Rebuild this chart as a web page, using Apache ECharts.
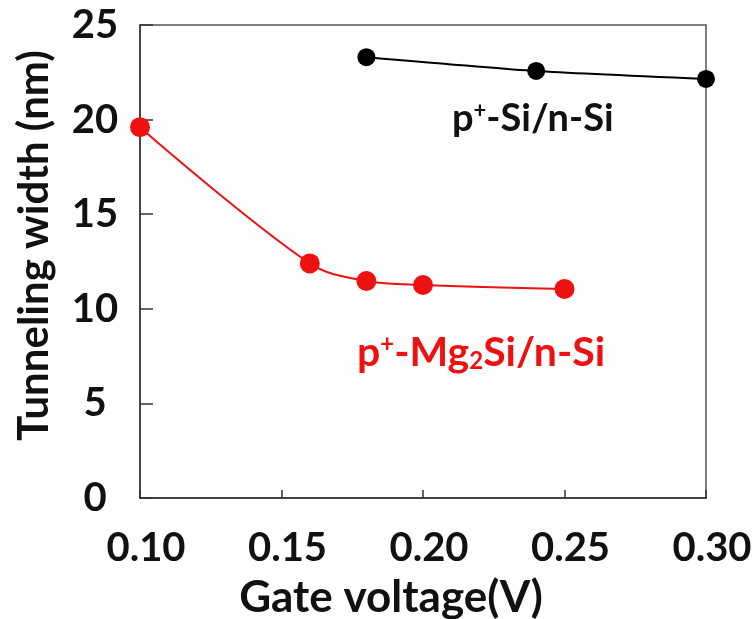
<!DOCTYPE html>
<html>
<head>
<meta charset="utf-8">
<script src="https://cdn.jsdelivr.net/npm/echarts@6/dist/echarts.min.js"></script>
<style>
html,body{margin:0;padding:0;background:#fff;}
#c{width:752px;height:619px;}
</style>
</head>
<body>
<div id="c"></div>
<script>
// Data
const xTicks = [0.10, 0.15, 0.20, 0.25, 0.30];
const yTicks = [0, 5, 10, 15, 20, 25];
const mgVoltage = [0.10, 0.16, 0.18, 0.20, 0.25];
const mgWidth   = [19.6, 12.4, 11.47, 11.26, 11.05];
const siVoltage = [0.18, 0.24, 0.30];
const siWidth   = [23.3, 22.57, 22.15];

const FONT = 'Lato, "Open Sans", sans-serif';
const chart = echarts.init(document.getElementById('c'), null, {renderer: 'canvas'});

function pairs(xs, ys){ return xs.map((x,i)=>[x, ys[i]]); }

const option = {
  backgroundColor: '#fff',
  animation: false,
  grid: {left: 140, right: 46, top: 25, bottom: 121, containLabel: false, outerBoundsMode: 'none',
    show: true, borderColor: '#555', borderWidth: 1.5, backgroundColor: 'transparent'},
  xAxis: {
    type: 'value', min: xTicks[0], max: xTicks[xTicks.length-1], interval: 0.05,
    name: 'Gate voltage(V)', nameLocation: 'middle', nameGap: 78,
    nameTextStyle: {fontFamily: FONT, fontWeight: 'bold', fontSize: 44, color: '#111', padding: [0, 64, 0, 0]},
    axisLine: {show: true, lineStyle: {color: '#333', width: 1.5}},
    axisTick: {show: true, inside: true, length: 8, lineStyle: {color: '#333', width: 1.5}},
    splitLine: {show: false},
    axisLabel: {margin: 30, fontFamily: FONT, fontWeight: 'bold', fontSize: 40, color: '#111',
      padding: [0, 0, 0, 12], formatter: v => v.toFixed(2)}
  },
  yAxis: {
    type: 'value', min: yTicks[0], max: yTicks[yTicks.length-1], interval: 5,
    name: 'Tunneling width (nm)', nameLocation: 'middle', nameGap: 85,
    nameTextStyle: {fontFamily: FONT, fontWeight: 'bold', fontSize: 42, color: '#111', padding: [0, 0, 0, 32]},
    axisLine: {show: true, lineStyle: {color: '#333', width: 1.5}},
    axisTick: {show: true, inside: true, length: 13, lineStyle: {color: '#333', width: 1.5}},
    splitLine: {show: false},
    axisLabel: {margin: 45, align: 'center', fontFamily: FONT, fontWeight: 'bold', fontSize: 40, color: '#111'}
  },
  series: [
    {
      type: 'line', data: pairs(mgVoltage, mgWidth), smooth: 0.35,
      symbol: 'circle', symbolSize: 20,
      lineStyle: {color: '#ee1111', width: 2},
      itemStyle: {color: '#ee1111'}
    },
    {
      type: 'line', data: pairs(siVoltage, siWidth), smooth: 0.2,
      symbol: 'circle', symbolSize: 18,
      lineStyle: {color: '#000', width: 2},
      itemStyle: {color: '#000'}
    }
  ],
  graphic: [
    {
      type: 'text', left: 452, top: 100,
      style: {
        text: 'p{sup|+}-Si/n-Si',
        fontFamily: FONT, fontWeight: 'bold', fontSize: 38, fill: '#111',
        rich: {
          sup: {fontFamily: FONT, fontWeight: 'bold', fontSize: 22, fill: '#111', verticalAlign: 'top', lineHeight: 22}
        }
      }
    },
    {
      type: 'text', left: 357, top: 332,
      style: {
        text: 'p{sup|+}-Mg{sub|2}Si/n-Si',
        fontFamily: FONT, fontWeight: 'bold', fontSize: 41, fill: '#ee1111',
        rich: {
          sup: {fontFamily: FONT, fontWeight: 'bold', fontSize: 24, fill: '#ee1111', verticalAlign: 'top', lineHeight: 24},
          sub: {fontFamily: FONT, fontWeight: 'bold', fontSize: 24, fill: '#ee1111', verticalAlign: 'bottom', lineHeight: 24}
        }
      }
    }
  ]
};
chart.setOption(option);
</script>
</body>
</html>
